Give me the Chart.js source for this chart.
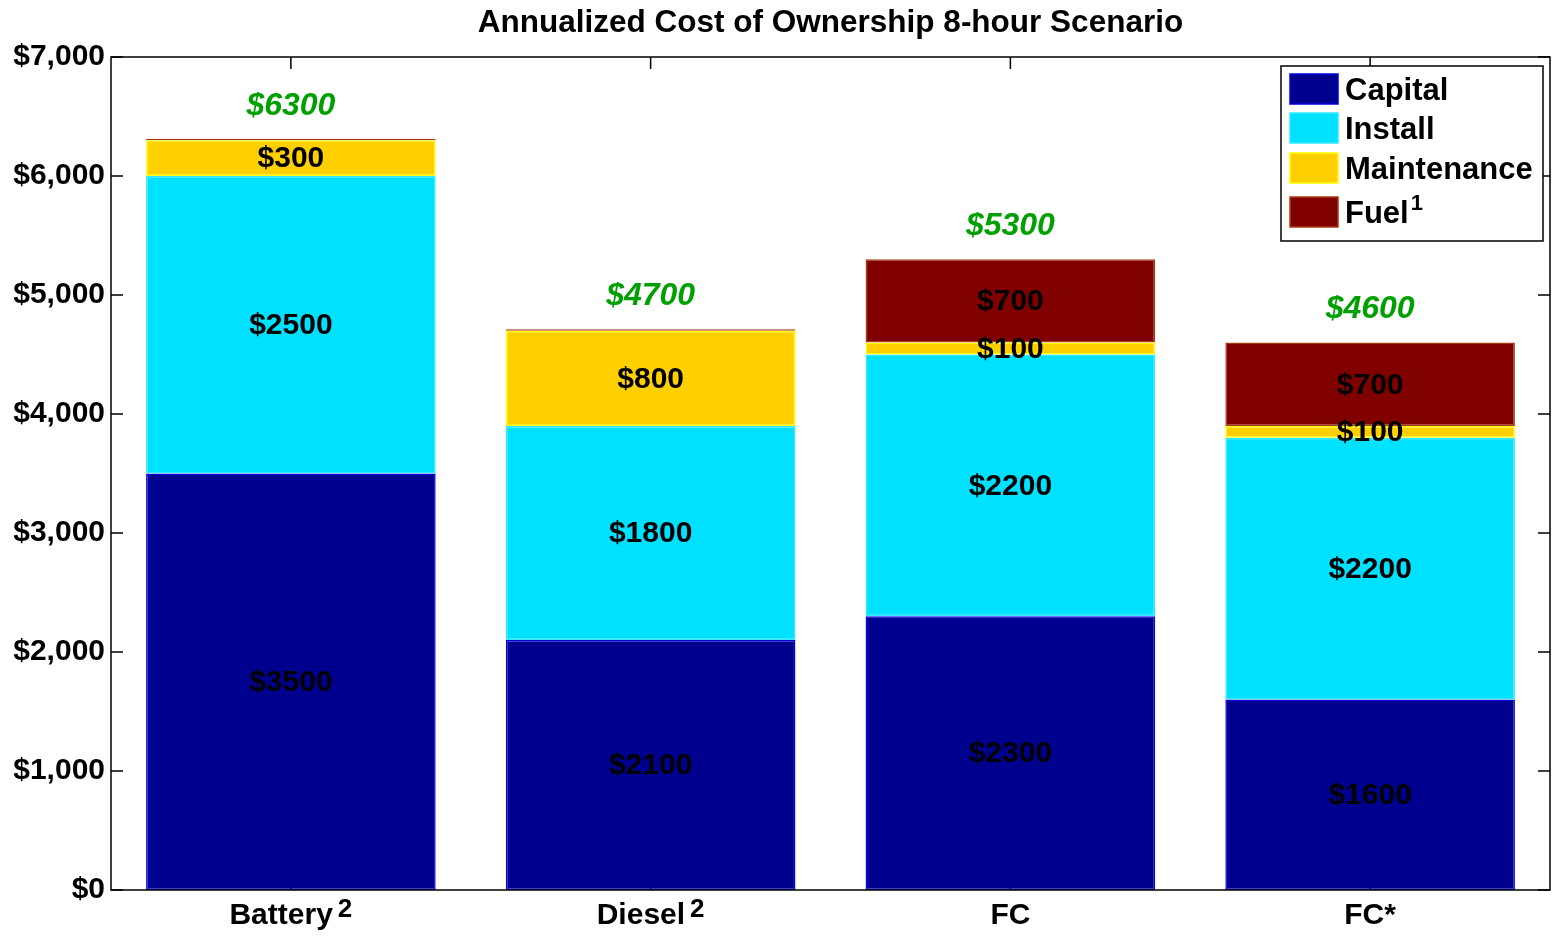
<!DOCTYPE html>
<html>
<head>
<meta charset="utf-8">
<script src="https://cdn.jsdelivr.net/npm/chart.js@4.4.1/dist/chart.umd.min.js"></script>
<style>
  html, body { margin: 0; padding: 0; background: #fff; }
  #wrap { width: 1557px; height: 937px; position: relative; }
</style>
</head>
<body>
<div id="wrap"><canvas id="cost-chart"></canvas></div>
<script>
// Data
const categories = ['Battery', 'Diesel', 'FC', 'FC*'];
const footnotes = ['2', '2', '', ''];
const capital = [3500, 2100, 2300, 1600];
const install = [2500, 1800, 2200, 2200];
const maintenance = [300, 800, 100, 100];
const fuel = [12, 12, 700, 700];
const totals = [6300, 4700, 5300, 4600];
const seriesNames = ['Capital', 'Install', 'Maintenance', 'Fuel'];
const chartTitle = 'Annualized Cost of Ownership 8-hour Scenario';
const yMax = 7000;
const yStep = 1000;

const FONT = '"Liberation Sans", Arial, sans-serif';
const fills = ['#00008F', '#00E0FF', '#FFD000', '#800000'];
const edges = ['#0000E0', '#30E8FF', '#FFFF00', '#A83C10'];

const money = v => '$' + v.toLocaleString('en-US');

// title centred over the axes, like MATLAB does it
const axesTitle = {
    id: 'axesTitle',
    afterDraw(chart) {
        const { ctx, chartArea: a } = chart;
        ctx.save();
        ctx.font = 'bold 31.5px ' + FONT;
        ctx.fillStyle = '#000';
        ctx.textAlign = 'center';
        ctx.textBaseline = 'middle';
        ctx.fillText(chartTitle, (a.left + a.right) / 2, 23);
        ctx.restore();
    }
};

// segment values + totals drawn on the bars
const barLabels = {
    id: 'barLabels',
    afterDatasetsDraw(chart) {
        const ctx = chart.ctx;
        ctx.save();
        ctx.textAlign = 'center';
        ctx.textBaseline = 'middle';
        chart.data.datasets.forEach((ds, di) => {
            const meta = chart.getDatasetMeta(di);
            meta.data.forEach((bar, i) => {
                const v = ds.data[i];
                if (v < 100) return;
                ctx.font = 'bold 30px ' + FONT;
                ctx.fillStyle = '#000';
                ctx.fillText('$' + v, bar.x, (bar.y + bar.base) / 2 + 1);
            });
        });
        // green totals
        const last = chart.getDatasetMeta(chart.data.datasets.length - 1);
        ctx.font = 'italic bold 32px ' + FONT;
        ctx.fillStyle = '#00A000';
        last.data.forEach((bar, i) => {
            ctx.fillText('$' + totals[i], bar.x, bar.y - 33);
        });
        ctx.restore();
    }
};

// category names with the raised footnote digit
const xLabels = {
    id: 'xLabels',
    afterDraw(chart) {
        const { ctx, chartArea: a, scales } = chart;
        ctx.save();
        ctx.fillStyle = '#000';
        ctx.textBaseline = 'alphabetic';
        ctx.textAlign = 'left';
        categories.forEach((name, i) => {
            const cx = scales.x.getPixelForTick(i);
            ctx.font = 'bold 30px ' + FONT;
            const w1 = ctx.measureText(name).width;
            let w2 = 0;
            if (footnotes[i]) {
                ctx.font = 'bold 26px ' + FONT;
                w2 = ctx.measureText(footnotes[i]).width + 5;
            }
            const x0 = cx - (w1 + w2) / 2;
            const base = a.bottom + 34;
            ctx.font = 'bold 30px ' + FONT;
            ctx.fillText(name, x0, base);
            if (footnotes[i]) {
                ctx.font = 'bold 26px ' + FONT;
                ctx.fillText(footnotes[i], x0 + w1 + 5, base - 7);
            }
        });
        ctx.restore();
    }
};

// MATLAB style box with inward ticks
const axesBox = {
    id: 'axesBox',
    beforeDatasetsDraw(chart) {
        const { ctx, chartArea: a, scales } = chart;
        ctx.save();
        ctx.strokeStyle = '#000';
        ctx.lineWidth = 1.5;
        ctx.beginPath();
        scales.x.ticks.forEach((t, i) => {
            const x = scales.x.getPixelForTick(i);
            ctx.moveTo(x, a.top); ctx.lineTo(x, a.top + 12);
            ctx.moveTo(x, a.bottom); ctx.lineTo(x, a.bottom - 12);
        });
        scales.y.ticks.forEach(t => {
            const y = scales.y.getPixelForValue(t.value);
            ctx.moveTo(a.left, y); ctx.lineTo(a.left + 12, y);
            ctx.moveTo(a.right, y); ctx.lineTo(a.right - 12, y);
        });
        ctx.stroke();
        ctx.restore();
    },
    afterDatasetsDraw(chart) {
        const { ctx, chartArea: a } = chart;
        ctx.save();
        ctx.strokeStyle = '#000';
        ctx.lineWidth = 1.5;
        ctx.strokeRect(a.left, a.top, a.right - a.left, a.bottom - a.top);
        ctx.restore();
    }
};

// legend box in the upper right corner of the plot
const boxLegend = {
    id: 'boxLegend',
    afterDraw(chart) {
        const { ctx, chartArea: a } = chart;
        const w = 262, h = 175;
        const x0 = a.right - 7 - w, y0 = a.top + 9;
        ctx.save();
        ctx.fillStyle = '#fff';
        ctx.fillRect(x0, y0, w, h);
        ctx.strokeStyle = '#000';
        ctx.lineWidth = 1.5;
        ctx.strokeRect(x0, y0, w, h);
        const rows = [23, 62, 102, 146];
        ctx.textBaseline = 'middle';
        ctx.textAlign = 'left';
        chart.data.datasets.forEach((ds, i) => {
            const cy = y0 + rows[i];
            ctx.fillStyle = fills[i];
            ctx.fillRect(x0 + 9, cy - 15, 48, 30);
            ctx.strokeStyle = edges[i];
            ctx.lineWidth = 1.5;
            ctx.strokeRect(x0 + 9, cy - 15, 48, 30);
            ctx.fillStyle = '#000';
            ctx.font = 'bold 31px ' + FONT;
            ctx.fillText(ds.label, x0 + 64, cy + 2);
            if (ds.label === 'Fuel') {
                const tw = ctx.measureText(ds.label).width;
                ctx.font = 'bold 22px ' + FONT;
                ctx.fillText('1', x0 + 66 + tw, cy - 8);
            }
        });
        ctx.restore();
    }
};

const seriesData = [capital, install, maintenance, fuel];

new Chart(document.getElementById('cost-chart'), {
    type: 'bar',
    data: {
        labels: categories,
        datasets: seriesNames.map((name, i) => ({
            label: name,
            data: seriesData[i],
            backgroundColor: fills[i],
            borderColor: edges[i],
            borderWidth: 1.5,
            borderSkipped: false,
            barPercentage: 0.805,
            categoryPercentage: 1.0
        }))
    },
    options: {
        responsive: true,
        maintainAspectRatio: false,
        animation: false,
        layout: { padding: { top: 57, right: 7, left: 0, bottom: 0 } },
        plugins: {
            legend: { display: false },
            tooltip: { enabled: false },
            title: { display: false }
        },
        scales: {
            x: {
                stacked: true,
                grid: { display: false, drawTicks: false },
                border: { display: false },
                ticks: { display: false },
                afterFit: s => { s.height = 47; }
            },
            y: {
                stacked: true,
                min: 0,
                max: yMax,
                grid: { display: false, drawTicks: false },
                border: { display: false },
                ticks: {
                    stepSize: yStep,
                    color: '#000',
                    padding: 6,
                    font: { family: FONT, size: 30, weight: 'bold' },
                    callback: v => money(v)
                },
                afterFit: s => { s.width = 111; }
            }
        }
    },
    plugins: [axesBox, barLabels, xLabels, boxLegend, axesTitle]
});
</script>
</body>
</html>
